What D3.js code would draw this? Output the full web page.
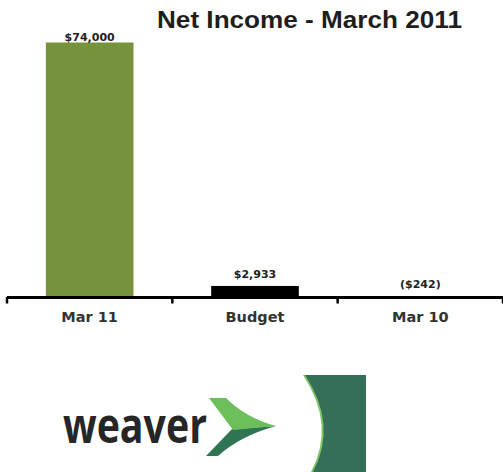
<!DOCTYPE html>
<html>
<head>
<meta charset="utf-8">
<script src="https://cdn.jsdelivr.net/npm/d3@7"></script>
<style>
  html, body { margin: 0; padding: 0; background: #fff; }
  svg { display: block; }
</style>
</head>
<body>
<div id="chart"></div>
<script>
// Net income by period
const categories = ["Mar 11", "Budget", "Mar 10"];
const values = [74000, 2933, -242];
const valueLabels = ["$74,000", "$2,933", "($242)"];
const barColors = ["#76923c", "#000000", "#000000"];

const W = 503, H = 472;
const svg = d3.select("#chart").append("svg")
  .attr("width", W).attr("height", H);

const x = d3.scaleBand()
  .domain(categories)
  .range([7, 503])
  .paddingInner(0.47)
  .paddingOuter(0.235);

const y = d3.scaleLinear()
  .domain([0, 74000])
  .range([296, 42.5]);

// Title
svg.append("text")
  .attr("x", 157).attr("y", 28.3)
  .attr("textLength", 305).attr("lengthAdjust", "spacingAndGlyphs")
  .attr("font-family", "Liberation Sans, Arial, sans-serif")
  .attr("font-weight", "bold")
  .attr("font-size", 23)
  .attr("fill", "#1e1e1e")
  .text("Net Income - March 2011");

// Bars
svg.selectAll("rect.bar")
  .data(values)
  .join("rect")
  .attr("class", "bar")
  .attr("x", (d, i) => x(categories[i]))
  .attr("width", x.bandwidth())
  .attr("y", d => y(Math.max(0, d)))
  .attr("height", d => Math.abs(y(d) - y(0)))
  .attr("fill", (d, i) => barColors[i]);

// Value labels
svg.selectAll("text.val")
  .data(values)
  .join("text")
  .attr("class", "val")
  .attr("x", (d, i) => x(categories[i]) + x.bandwidth() / 2)
  .attr("y", d => Math.max(41, y(Math.max(0, d)) - 8))
  .attr("text-anchor", "middle")
  .attr("font-family", "DejaVu Sans, Verdana, sans-serif")
  .attr("font-weight", "bold")
  .attr("font-size", 11)
  .attr("fill", "#222")
  .text((d, i) => valueLabels[i]);

// Category axis with ticks at band edges
const axisG = svg.append("g");
axisG.append("line")
  .attr("x1", 7).attr("x2", 503)
  .attr("y1", 297.5).attr("y2", 297.5)
  .attr("stroke", "#000").attr("stroke-width", 3);
const edges = [7, 7 + x.step(), 7 + 2 * x.step(), 503];
axisG.selectAll("line.tick")
  .data(edges)
  .join("line")
  .attr("class", "tick")
  .attr("x1", d => d).attr("x2", d => d)
  .attr("y1", 297).attr("y2", 303.5)
  .attr("stroke", "#000").attr("stroke-width", 2.5);
axisG.selectAll("text.cat")
  .data(categories)
  .join("text")
  .attr("class", "cat")
  .attr("x", d => x(d) + x.bandwidth() / 2)
  .attr("y", 322)
  .attr("text-anchor", "middle")
  .attr("font-family", "DejaVu Sans, Verdana, sans-serif")
  .attr("font-weight", "bold")
  .attr("font-size", 14.5)
  .attr("fill", "#333")
  .text(d => d);

// Company mark
const logo = svg.append("g");
logo.append("text")
  .attr("x", 63).attr("y", 442.5)
  .attr("textLength", 144).attr("lengthAdjust", "spacingAndGlyphs")
  .attr("font-family", "Open Sans, sans-serif")
  .attr("font-weight", 700)
  .attr("font-size", 49)
  .attr("fill", "#262626")
  .text("weaver");
// chevron: lower dark arm, upper light arm
logo.append("path")
  .attr("d", "M232,429 L276,426 Q240,436 218,456 L206,456 Z")
  .attr("fill", "#2f7553");
logo.append("path")
  .attr("d", "M209,398 L226,398 Q246,418 276,426 L233,430 Z")
  .attr("fill", "#6cbf5a");
// side panel with curved edge
logo.append("path")
  .attr("d", "M303,375 Q336,425 311,472 L366,472 L366,375 Z")
  .attr("fill", "#7dc46b");
logo.append("path")
  .attr("d", "M305,375 Q338,425 313,472 L366,472 L366,375 Z")
  .attr("fill", "#356f57");
</script>
</body>
</html>
